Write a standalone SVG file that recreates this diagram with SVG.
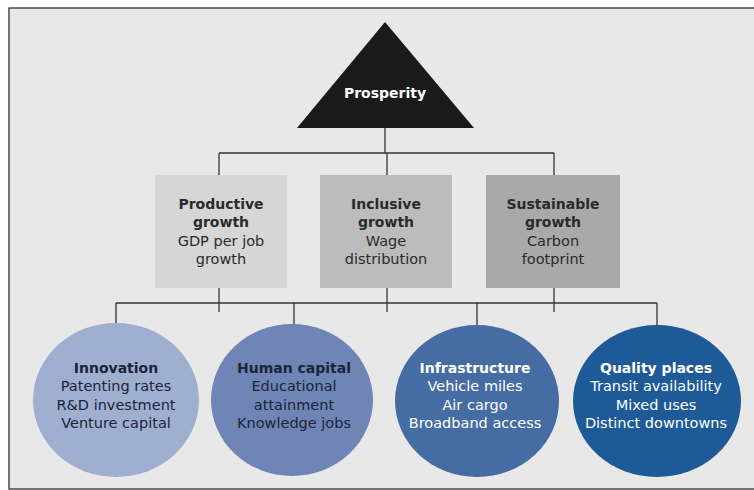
<svg xmlns="http://www.w3.org/2000/svg" width="754" height="490" viewBox="0 0 754 490">
<style>
  .frame { fill: #e8e8e8; stroke: #4a4a4a; stroke-width: 1.5; }
  .conn { fill: none; stroke: #333333; stroke-width: 1.3; }
  text { font-family: "DejaVu Sans", "Liberation Sans", sans-serif; text-anchor: middle; }
  .t { font-weight: bold; font-size: 14px; }
  .r { font-size: 14.5px; }
  .dark { fill: #2a2a2a; }
  .navy { fill: #1b2438; }
  .white { fill: #ffffff; }
</style>
<rect x="0" y="0" width="754" height="490" fill="#ffffff"/>
<rect class="frame" x="9" y="8" width="760" height="481"/>

<g id="connectors">
  <path class="conn" d="M385 128 V153 M219 153 H554 M219 153 V175 M387 153 V175 M554 153 V175"/>
  <path class="conn" d="M219 288 V312 M387 288 V312 M554 288 V312 M116 303 H657 M116 303 V324 M294 303 V325 M477 303 V325 M657 303 V325"/>
</g>

<g id="prosperity">
  <polygon points="385,22 297,128 474,128" fill="#1a1a1a"/>
  <text class="t white" x="385" y="98">Prosperity</text>
</g>

<g id="productive">
  <rect x="155" y="175" width="132" height="113" fill="#d6d6d6"/>
  <text class="t dark" x="221" y="209">Productive</text>
  <text class="t dark" x="221" y="227">growth</text>
  <text class="r dark" x="221" y="246">GDP per job</text>
  <text class="r dark" x="221" y="264">growth</text>
</g>

<g id="inclusive">
  <rect x="320" y="175" width="132" height="113" fill="#bcbcbc"/>
  <text class="t dark" x="386" y="209">Inclusive</text>
  <text class="t dark" x="386" y="227">growth</text>
  <text class="r dark" x="386" y="246">Wage</text>
  <text class="r dark" x="386" y="264">distribution</text>
</g>

<g id="sustainable">
  <rect x="486" y="175" width="134" height="113" fill="#a9a9a9"/>
  <text class="t dark" x="553" y="209">Sustainable</text>
  <text class="t dark" x="553" y="227">growth</text>
  <text class="r dark" x="553" y="246">Carbon</text>
  <text class="r dark" x="553" y="264">footprint</text>
</g>

<g id="innovation">
  <ellipse cx="116" cy="400" rx="83" ry="77" fill="#9fafd0"/>
  <text class="t navy" x="116" y="373">Innovation</text>
  <text class="r navy" x="116" y="391">Patenting rates</text>
  <text class="r navy" x="116" y="410">R&amp;D investment</text>
  <text class="r navy" x="116" y="428">Venture capital</text>
</g>

<g id="human-capital">
  <ellipse cx="292" cy="400" rx="81" ry="76" fill="#6e85b5"/>
  <text class="t navy" x="294" y="373">Human capital</text>
  <text class="r navy" x="294" y="391">Educational</text>
  <text class="r navy" x="294" y="410">attainment</text>
  <text class="r navy" x="294" y="428">Knowledge jobs</text>
</g>

<g id="infrastructure">
  <ellipse cx="477" cy="401" rx="82" ry="76" fill="#466ca4"/>
  <text class="t white" x="475" y="373">Infrastructure</text>
  <text class="r white" x="475" y="391">Vehicle miles</text>
  <text class="r white" x="475" y="410">Air cargo</text>
  <text class="r white" x="475" y="428">Broadband access</text>
</g>

<g id="quality-places">
  <ellipse cx="657" cy="401" rx="84" ry="76" fill="#1e5a98"/>
  <text class="t white" x="656" y="373">Quality places</text>
  <text class="r white" x="656" y="391">Transit availability</text>
  <text class="r white" x="656" y="410">Mixed uses</text>
  <text class="r white" x="656" y="428">Distinct downtowns</text>
</g>
</svg>
